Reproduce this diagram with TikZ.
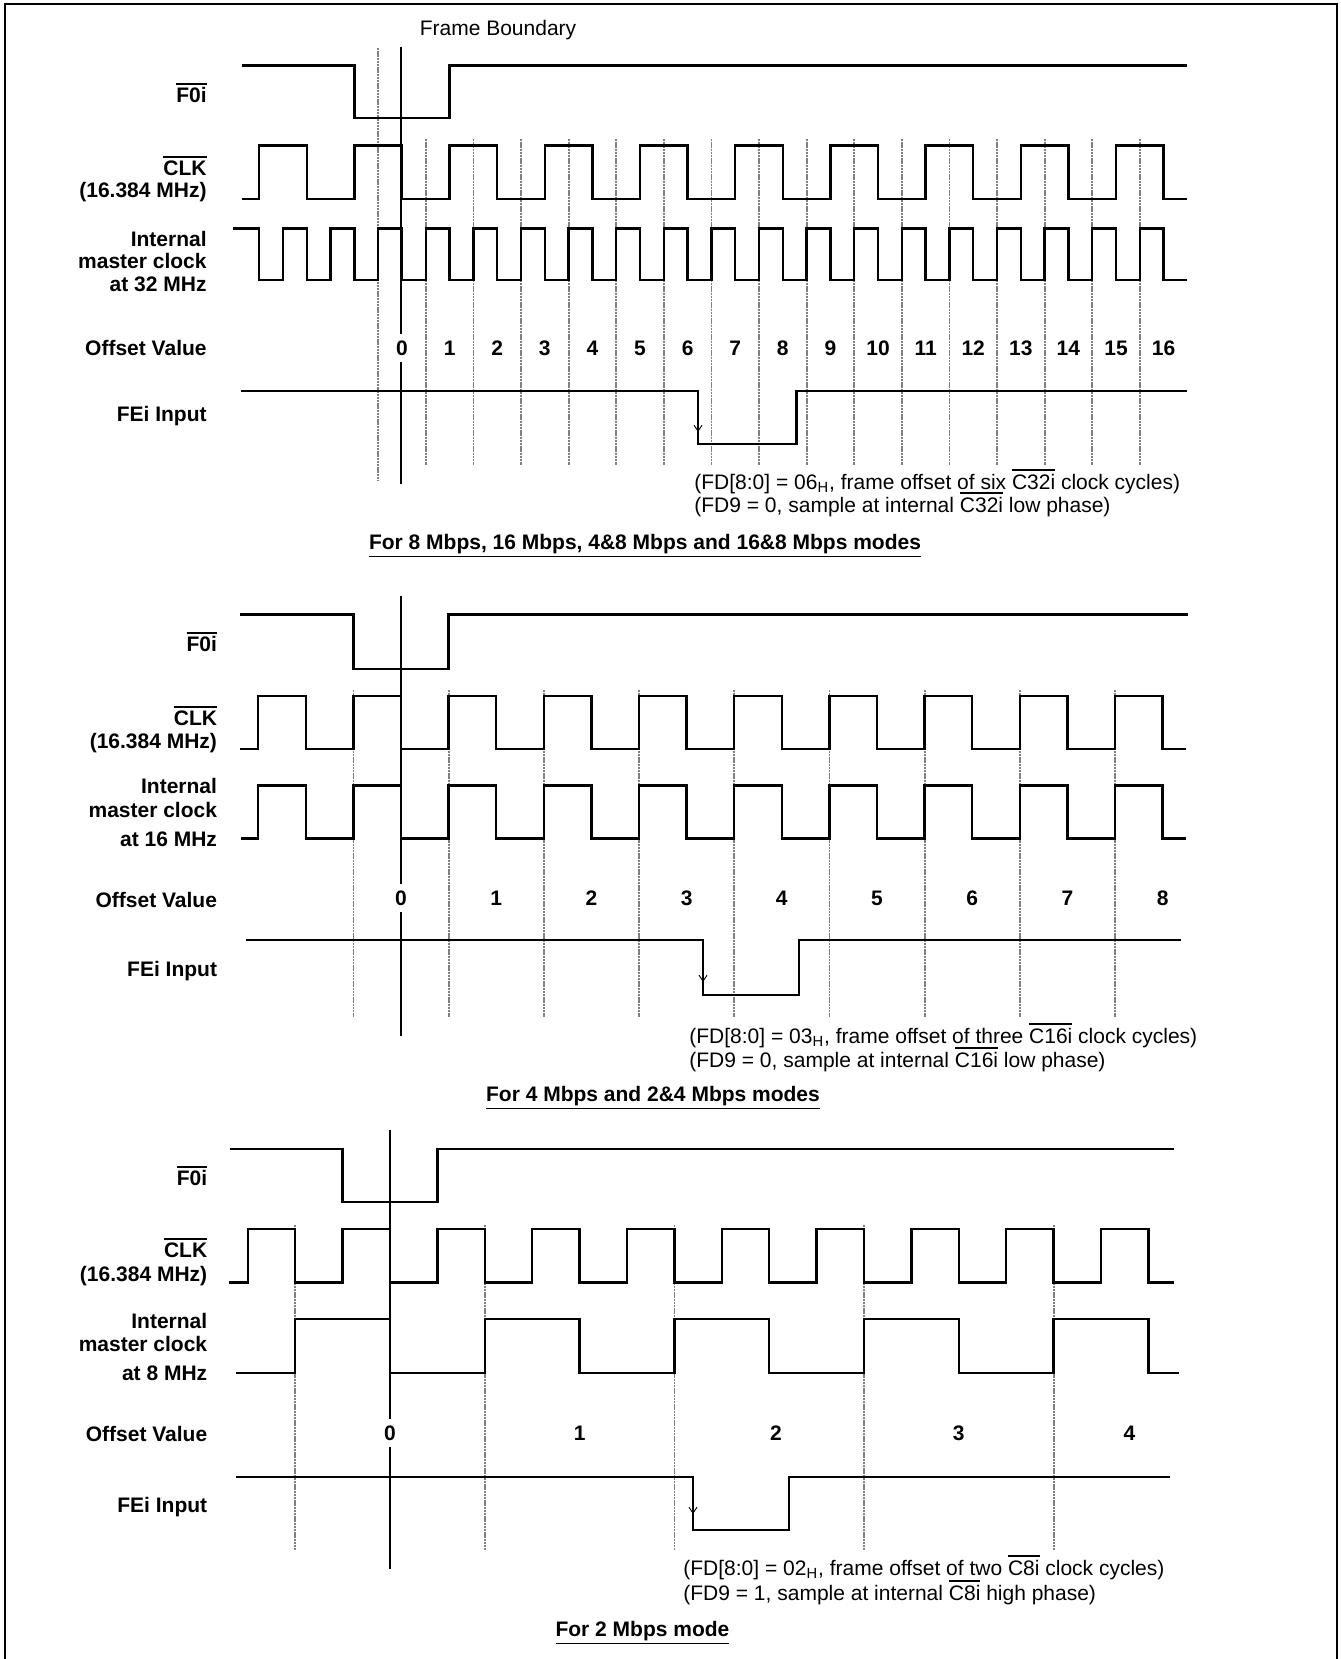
\documentclass[tikz,border=0pt]{standalone}
\usepackage{fontspec}
\setmainfont{Liberation Sans}
\usetikzlibrary{arrows.meta}
\newcommand{\barsig}[1]{\leavevmode\vbox{\hrule height 0.9pt\kern1.4pt\hbox{#1}}}
\begin{document}
\begin{tikzpicture}[x=0.5pt,y=-0.5pt,line join=miter,font=\fontsize{10.5}{12}\selectfont,
  sig/.style={line width=1.2pt},
  gridln/.style={line width=0.9pt,black!50,dash pattern=on 1.2pt off 0.4pt},
  fbline/.style={line width=0.7pt},
  lbl/.style={anchor=base east,inner sep=0pt,font=\fontsize{10.5}{12}\selectfont\bfseries},
  num/.style={anchor=base,fill=white,font=\fontsize{10.5}{12}\selectfont\bfseries},
  note/.style={anchor=base west,inner sep=0pt},
  ttl/.style={anchor=base,font=\fontsize{10.5}{12}\selectfont\bfseries},
  fe/.style={-{Straight Barb[length=3pt,width=4pt]},line width=0.45pt}]
\useasboundingbox (0,0) rectangle (1340,1659);
\draw[line width=1.2pt] (5,4) rectangle (1337,1665);
% 8 Mbps, 16 Mbps, 4&8 Mbps and 16&8 Mbps modes
\def \tA{402};
\def \hA{47.6};
\node[anchor=base] (fb) at (498,36) {Frame Boundary};
\draw[fbline] (\tA-1,47) -- (\tA-1,484);
\draw[gridln] ({\tA-0.5*\hA},48) -- ({\tA-0.5*\hA},481);
\foreach \kk in {0,...,15}{\draw[gridln] ({\tA+(\kk+0.5)*\hA},139) -- ({\tA+(\kk+0.5)*\hA},465);}
\draw[sig] (242,65.7) -- ({\tA-\hA},65.7) -- ({\tA-\hA},118.3) -- ({\tA+\hA},118.3) -- ({\tA+\hA},65.7) -- ({\tA+16.5*\hA},65.7);
\draw[sig] (242,199) foreach \kk in {-3,-1,...,15}{ -- ({\tA+\kk*\hA},199) -- ({\tA+\kk*\hA},145.7) -- ({\tA+(\kk+1)*\hA},145.7) -- ({\tA+(\kk+1)*\hA},199)} -- ({\tA+16.5*\hA},199);
\draw[sig] (233,228.3) -- ({\tA-3*\hA},228.3) -- ({\tA-3*\hA},280) foreach \kk in {-3,...,15}{ -- ({\tA+(\kk+0.5)*\hA},280) -- ({\tA+(\kk+0.5)*\hA},228.3) -- ({\tA+(\kk+1)*\hA},228.3) -- ({\tA+(\kk+1)*\hA},280)} -- ({\tA+16.5*\hA},280);
\foreach \n in {0,...,16}{\node[num] (oa\n) at ({\tA+\n*\hA},355.5) {\n};}
\draw[sig] (241,390.7) -- (698,390.7) -- (698,444) -- (796.6,444) -- (796.6,390.7) -- ({\tA+16.5*\hA},390.7);
\draw[fe] (698,400) -- (698,432);
\foreach \y/\t [count=\idx] in {103/\barsig{F0i},175/\barsig{CLK},197/(16.384 MHz),246.5/Internal,268/master clock,291.5/at 32 MHz,355/Offset Value,421.5/FEi Input}{\node[lbl] (la\idx) at (207,\y) {\t};}
\node[note] (na1) at (694,489) {(FD[8:0] = 06\textsubscript{H}, frame offset of six \barsig{C32i} clock cycles)};
\node[note] (na2) at (694,512) {(FD9 = 0, sample at internal \barsig{C32i} low phase)};
\node[ttl] (ta) at (645,549) {\underline{For 8 Mbps, 16 Mbps, 4\&8 Mbps and 16\&8 Mbps modes}};
% 4 Mbps and 2&4 Mbps modes
\def \tB{401};
\draw[fbline] (\tB,596) -- (\tB,1036);
\foreach \kk in {-1,1,...,15}{\draw[gridln] ({\tB+\kk*\hA},690) -- ({\tB+\kk*\hA},1017);}
\draw[sig] (240,614.3) -- ({\tB-\hA},614.3) -- ({\tB-\hA},669) -- ({\tB+\hA},669) -- ({\tB+\hA},614.3) -- (1188,614.3);
\draw[sig] (240,749) foreach \kk in {-3,-1,...,15}{ -- ({\tB+\kk*\hA},749) -- ({\tB+\kk*\hA},695.7) -- ({\tB+(\kk+1)*\hA},695.7) -- ({\tB+(\kk+1)*\hA},749)} -- ({\tB+16.5*\hA},749);
\draw[sig] (241,838.3) foreach \kk in {-3,-1,...,15}{ -- ({\tB+\kk*\hA},838.3) -- ({\tB+\kk*\hA},785.3) -- ({\tB+(\kk+1)*\hA},785.3) -- ({\tB+(\kk+1)*\hA},838.3)} -- ({\tB+16.5*\hA},838.3);
\foreach \n in {0,...,8}{\node[num] (ob\n) at ({\tB+2*\n*\hA},905) {\n};}
\draw[sig] (246,940) -- (703,940) -- (703,995) -- (799,995) -- (799,940) -- (1181,940);
\draw[fe] (703,950) -- (703,982);
\foreach \y/\t [count=\idx] in {651.7/\barsig{F0i},725/\barsig{CLK},748/(16.384 MHz),793.3/Internal,817/master clock,846.7/at 16 MHz,907.5/Offset Value,976.5/FEi Input}{\node[lbl] (lb\idx) at (217.4,\y) {\t};}
\node[note] (nb1) at (689,1043) {(FD[8:0] = 03\textsubscript{H}, frame offset of three \barsig{C16i} clock cycles)};
\node[note] (nb2) at (689,1067) {(FD9 = 0, sample at internal \barsig{C16i} low phase)};
\node[ttl] (tb) at (653,1101) {\underline{For 4 Mbps and 2\&4 Mbps modes}};
% 2 Mbps mode
\def \tC{390};
\def \hC{47.4};
\draw[fbline] (\tC,1130) -- (\tC,1569);
\foreach \kk in {-2,2,6,10,14}{\draw[gridln] ({\tC+\kk*\hC},1225) -- ({\tC+\kk*\hC},1550);}
\draw[sig] (230,1149) -- ({\tC-\hC},1149) -- ({\tC-\hC},1201.7) -- ({\tC+\hC},1201.7) -- ({\tC+\hC},1149) -- (1174,1149);
\draw[sig] (228.6,1282.5) foreach \kk in {-3,-1,...,15}{ -- ({\tC+\kk*\hC},1282.5) -- ({\tC+\kk*\hC},1228.7) -- ({\tC+(\kk+1)*\hC},1228.7) -- ({\tC+(\kk+1)*\hC},1282.5)} -- (1174,1282.5);
\draw[sig] (235.7,1372.7) foreach \kk in {-2,2,...,14}{ -- ({\tC+\kk*\hC},1372.7) -- ({\tC+\kk*\hC},1319) -- ({\tC+(\kk+2)*\hC},1319) -- ({\tC+(\kk+2)*\hC},1372.7)} -- (1179,1372.7);
\foreach \n/\p in {0/0,1/4,2/8.14,3/12,4/15.6}{\node[num] (oc\n) at ({\tC+\p*\hC},1440.5) {\n};}
\draw[sig] (236,1477) -- (693,1477) -- (693,1530) -- (789,1530) -- (789,1477) -- (1170,1477);
\draw[fe] (693,1487) -- (693,1514);
\foreach \y/\t [count=\idx] in {1185.7/\barsig{F0i},1257.7/\barsig{CLK},1281/(16.384 MHz),1328/Internal,1351.7/master clock,1380/at 8 MHz,1441.5/Offset Value,1512/FEi Input}{\node[lbl] (lc\idx) at (207.6,\y) {\t};}
\node[note] (nc1) at (683,1575) {(FD[8:0] = 02\textsubscript{H}, frame offset of two \barsig{C8i} clock cycles)};
\node[note] (nc2) at (683,1600) {(FD9 = 1, sample at internal \barsig{C8i} high phase)};
\node[ttl] (tc) at (642.5,1636) {\underline{For 2 Mbps mode}};
\end{tikzpicture}
\end{document}
